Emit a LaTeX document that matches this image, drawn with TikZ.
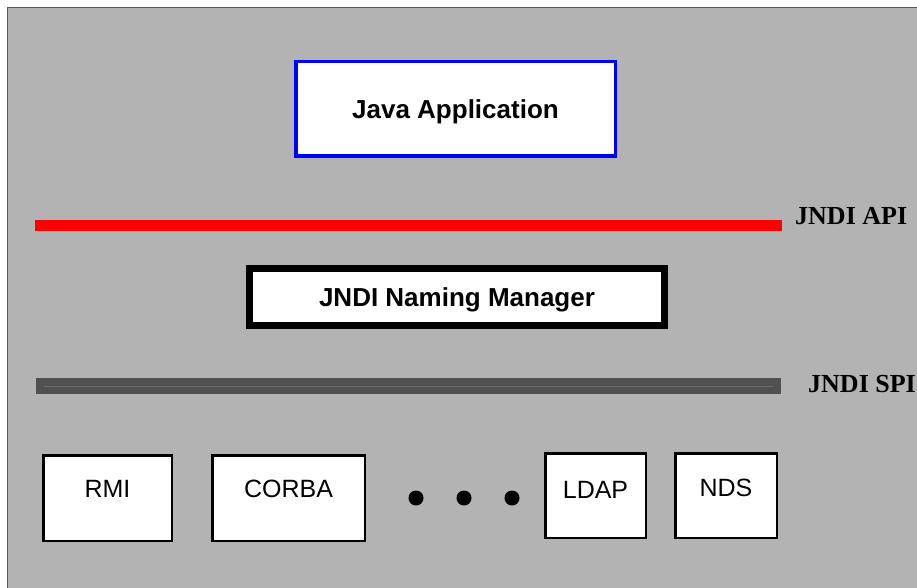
\documentclass[tikz,border=0pt]{standalone}
\usepackage{fontspec}
\setmainfont{Liberation Sans}
\newfontfamily\layerfont{Liberation Serif}
\usepackage{xcolor}
\usepackage{tikz}

\definecolor{panelgray}{HTML}{B3B3B3}
\definecolor{framegray}{HTML}{5A5A5A}
\definecolor{spigray}{HTML}{505050}
\definecolor{spiseam}{HTML}{6E6E6E}

\begin{document}
\begin{tikzpicture}[x=1pt,y=-1pt,
  prov/.style={draw, line width=2.5pt, fill=white, inner sep=0pt,
    minimum height=85.5pt, font=\fontsize{25}{30}\selectfont,
    text height=18pt, text depth=19pt},
  layer/.style={inner sep=0pt, anchor=base west,
    font=\layerfont\bfseries\fontsize{26}{30}\selectfont},
  dot/.style={circle, fill=black, inner sep=0pt, minimum size=15pt}]
\useasboundingbox (0,0) rectangle (917,588);
\fill[panelgray, draw=framegray, line width=1.5pt] (7.5,7.5) rectangle (940,610);

\node[draw=blue, line width=3.5pt, fill=white, inner sep=0pt,
  minimum width=319.5pt, minimum height=94.5pt,
  font=\bfseries\fontsize{26}{30}\selectfont, text height=18.6pt, text depth=0pt]
  (App) at (455.5,109) {Java Application};

% API layer
\coordinate (apiL) at (35,225.5);
\coordinate (apiR) at (782,225.5);
\draw[red, line width=11pt] (apiL) -- (apiR);
\node[layer] (api) at (795,224) {JNDI API};

\node[draw, line width=7pt, fill=white, inner sep=0pt,
  minimum width=415pt, minimum height=57pt,
  font=\bfseries\fontsize{26}{30}\selectfont, text height=18.6pt, text depth=0pt]
  (NM) at (457,297) {JNDI Naming Manager};

% SPI layer
\coordinate (spiL) at (36,386);
\coordinate (spiR) at (781,386);
\draw[spigray, line width=16pt] (spiL) -- (spiR);
\draw[spiseam, line width=1pt] ([xshift=8pt]spiL) -- ([xshift=-8pt]spiR);
\node[layer] (spi) at (808,392) {JNDI SPI};

\node[prov, minimum width=128.5pt] (R) at (107.5,498) {RMI};
\node[prov, minimum width=152.5pt] (C) at (288.5,498) {CORBA};
\node[dot] (d1) at (416,498) {};
\node[dot] (d2) at (464,498) {};
\node[dot] (d3) at (512,498) {};
\node[prov, minimum width=100.5pt, minimum height=84.5pt, text depth=13pt] (L) at (595.5,495.5) {LDAP};
\node[prov, minimum width=101.5pt, minimum height=84.5pt, text depth=17pt] (N) at (726,495.5) {NDS};
\end{tikzpicture}
\end{document}
